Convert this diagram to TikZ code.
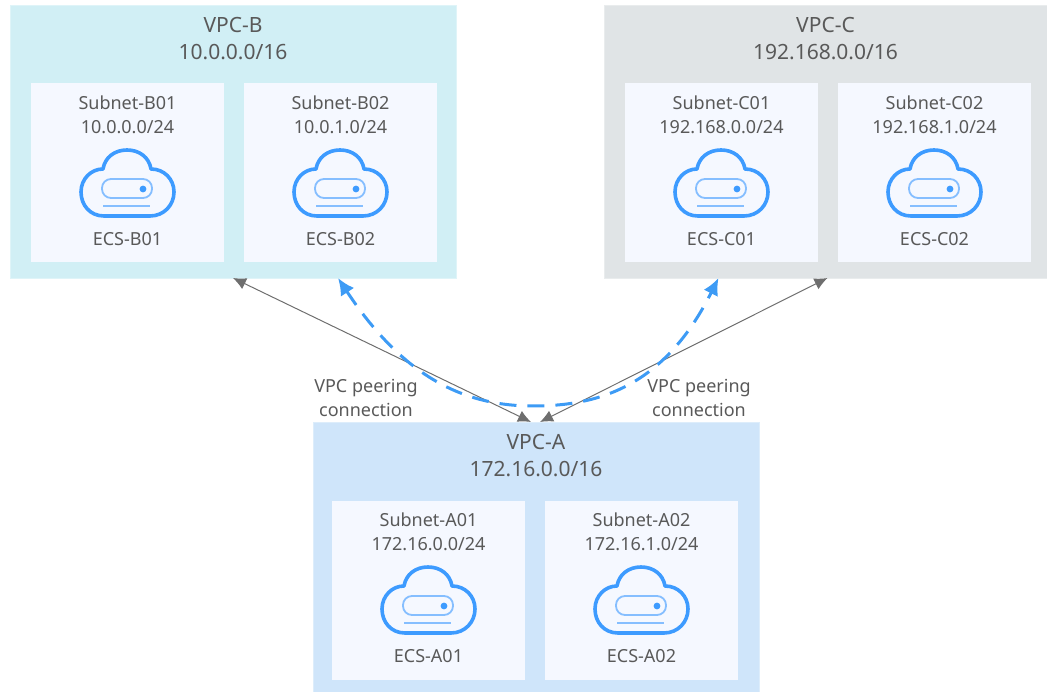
\documentclass[tikz,border=0pt]{standalone}
\usepackage{fontspec}
\setmainfont{Noto Sans}
\usetikzlibrary{arrows.meta}
\definecolor{txtgray}{HTML}{595959}
\definecolor{ecsblue}{HTML}{3D9BFF}
\definecolor{ecslight}{HTML}{85BEFF}
\definecolor{peerblue}{HTML}{3D9BF5}
\definecolor{linegray}{HTML}{6E6E6E}
\tikzset{
	vpc/.style 2 args={rectangle,draw=#2,fill=#1,line width=0.8pt,minimum width=446pt,minimum height=273pt,inner sep=0pt,outer sep=0pt},
	subnet/.style={rectangle,fill=subnetfill,minimum width=193pt,minimum height=179pt,inner sep=0pt,outer sep=0pt},
	vpclabel/.style={align=center,text=txtgray,font=\fontsize{21}{27}\selectfont,inner sep=0pt},
	lbl/.style={align=center,text=txtgray,font=\fontsize{18}{24.5}\selectfont,inner sep=0pt},
	peer/.style={draw=linegray,line width=1pt,{Latex[length=13pt,width=12pt]}-{Latex[length=13pt,width=12pt]}},
	vpn/.style={draw=peerblue,line width=3pt,dash pattern=on 17pt off 11pt,{Latex[length=17pt,width=16pt]}-{Latex[length=17pt,width=16pt]}},
	ecs/.pic={
		\draw [ecsblue, line width=3.6pt, line join=round] (-23, 33) .. controls (-37, 33) and (-46, 22) .. (-46, 9) .. controls (-46, -4) and (-36, -14) .. (-24, -14) .. controls (-22, -26) and (-12, -33) .. (0, -33) .. controls (12, -33) and (22, -26) .. (24, -14) .. controls (37, -14) and (47, -4) .. (47, 9) .. controls (47, 22) and (37, 33) .. (23, 33) -- cycle;
		\draw [ecslight, line width=1.8pt, rounded corners=9pt] (-25, -4) rectangle (25, 15);
		\fill [ecsblue] (16, 6) circle (3.4);
		\draw [ecslight, line width=1.8pt] (-24, 23) -- (23, 23);
	}
}
\definecolor{subnetfill}{HTML}{F5F8FF}
\definecolor{vpcbfill}{HTML}{D1EFF5}
\definecolor{vpccfill}{HTML}{E0E4E6}
\definecolor{vpcafill}{HTML}{CFE5FA}
\begin{document}
\begin{tikzpicture}[x=1pt,y=-1pt]
	\useasboundingbox (0, 0) rectangle (1047, 692);

	\node (vpcB) [vpc={vpcbfill}{vpcbfill!70!white}] at (233, 141.5) {};
	\node (vpcC) [vpc={vpccfill}{vpccfill!70!white}, minimum width=443pt] at (825.5, 141.5) {};
	\node (vpcA) [vpc={vpcafill}{vpcafill!70!white}, minimum height=270pt] at (536, 557) {};

	\node (subB01) [subnet] at (127.5, 172.5) {};
	\node (subB02) [subnet] at (340.5, 172.5) {};
	\node (subC01) [subnet] at (721.5, 172.5) {};
	\node (subC02) [subnet] at (934.5, 172.5) {};
	\node (subA01) [subnet] at (428.5, 590) {};
	\node (subA02) [subnet] at (641.5, 590) {};

	\node (lblB) [vpclabel] at (233, 39) {VPC-B\\10.0.0.0/16};
	\node (lblC) [vpclabel] at (825.5, 39) {VPC-C\\192.168.0.0/16};
	\node (lblA) [vpclabel] at (536, 456) {VPC-A\\172.16.0.0/16};

	\node (lblB01) [lbl] at (127.5, 115) {Subnet-B01\\10.0.0.0/24};
	\node (lblB02) [lbl] at (340.5, 115) {Subnet-B02\\10.0.1.0/24};
	\node (lblC01) [lbl] at (721.5, 115) {Subnet-C01\\192.168.0.0/24};
	\node (lblC02) [lbl] at (934.5, 115) {Subnet-C02\\192.168.1.0/24};
	\node (lblA01) [lbl] at (428.5, 532) {Subnet-A01\\172.16.0.0/24};
	\node (lblA02) [lbl] at (641.5, 532) {Subnet-A02\\172.16.1.0/24};

	\pic (icoB01) at (127, 183) {ecs};
	\pic (icoB02) at (340, 183) {ecs};
	\pic (icoC01) at (721, 183) {ecs};
	\pic (icoC02) at (934, 183) {ecs};
	\pic (icoA01) at (428, 600) {ecs};
	\pic (icoA02) at (641, 600) {ecs};

	\node (ecsB01) [lbl] at (127.5, 239) {ECS-B01};
	\node (ecsB02) [lbl] at (340.5, 239) {ECS-B02};
	\node (ecsC01) [lbl] at (721.5, 239) {ECS-C01};
	\node (ecsC02) [lbl] at (934.5, 239) {ECS-C02};
	\node (ecsA01) [lbl] at (428.5, 656) {ECS-A01};
	\node (ecsA02) [lbl] at (641.5, 656) {ECS-A02};

	\draw [peer] (vpcB.south) -- ([xshift=-5pt]vpcA.north);
	\draw [peer] ([xshift=2pt]vpcC.south) -- ([xshift=4pt]vpcA.north);

	\coordinate (dip) at (533, 406);
	\draw [vpn] ([xshift=105pt]vpcB.south) .. controls +(66, 100) and (465, 406) .. (dip) .. controls (601, 406) and (665, 385) .. ([xshift=-107pt]vpcC.south);

	\node (peerL) [lbl] at (366, 398) {VPC peering\\connection};
	\node (peerR) [lbl] at (699, 398) {VPC peering\\connection};
\end{tikzpicture}
\end{document}
